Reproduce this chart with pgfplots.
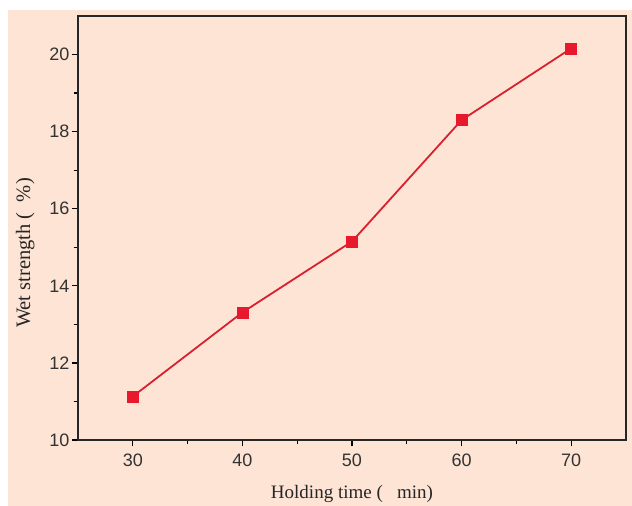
\documentclass[border=0pt]{standalone}
\usepackage{pgfplots}
\pgfplotsset{compat=1.18}
\usepackage{fontspec}
\setmainfont{Liberation Serif}
\newfontfamily\arial{Liberation Sans}
\definecolor{peach}{HTML}{FDE4D5}
\definecolor{mred}{HTML}{E8192C}
\definecolor{lred}{HTML}{D8202E}
\begin{document}
\begin{tikzpicture}[x=1pt,y=1pt]
\useasboundingbox (-78,-66) rectangle (554,440);
\fill[white] (-78,-66) rectangle (554,440);
\fill[peach] (-70,-66) rectangle (554,430);
\begin{axis}[
  at={(0,0)}, anchor=south west,
  scale only axis, width=548pt, height=424pt,
  xmin=25, xmax=75, ymin=10, ymax=21,
  xtick={30,40,50,60,70}, ytick={10,12,14,16,18,20},
  minor x tick num=1, minor y tick num=1,
  tick align=outside, tick pos=left,
  major tick length=6pt, minor tick length=4pt,
  every tick/.style={black, line width=1.2pt},
  axis line style={black!85, line width=1.3pt},
  tick label style={font=\arial\fontsize{18}{18}\selectfont, black!80},
  xticklabel style={yshift=-4pt},
  yticklabel style={xshift=1pt},
  /pgf/number format/assume math mode=true,
  xlabel={Holding time (\ \ \ min)},
  ylabel={Wet strength (\ \ \%)},
  label style={font=\fontsize{19}{19}\selectfont, black!85},
  xlabel style={yshift=-12pt},
  ylabel style={font=\fontsize{20.5}{20}\selectfont, yshift=8pt, xshift=-25pt},
  clip=false,
]
\addplot[lred, line width=1.8pt, mark=square*, mark size=5.5pt, mark options={fill=mred, draw=mred, line width=0.5pt}]
coordinates {(30,11.13) (40,13.31) (50,15.15) (60,18.30) (70,20.16)};
\end{axis}
\end{tikzpicture}
\end{document}
